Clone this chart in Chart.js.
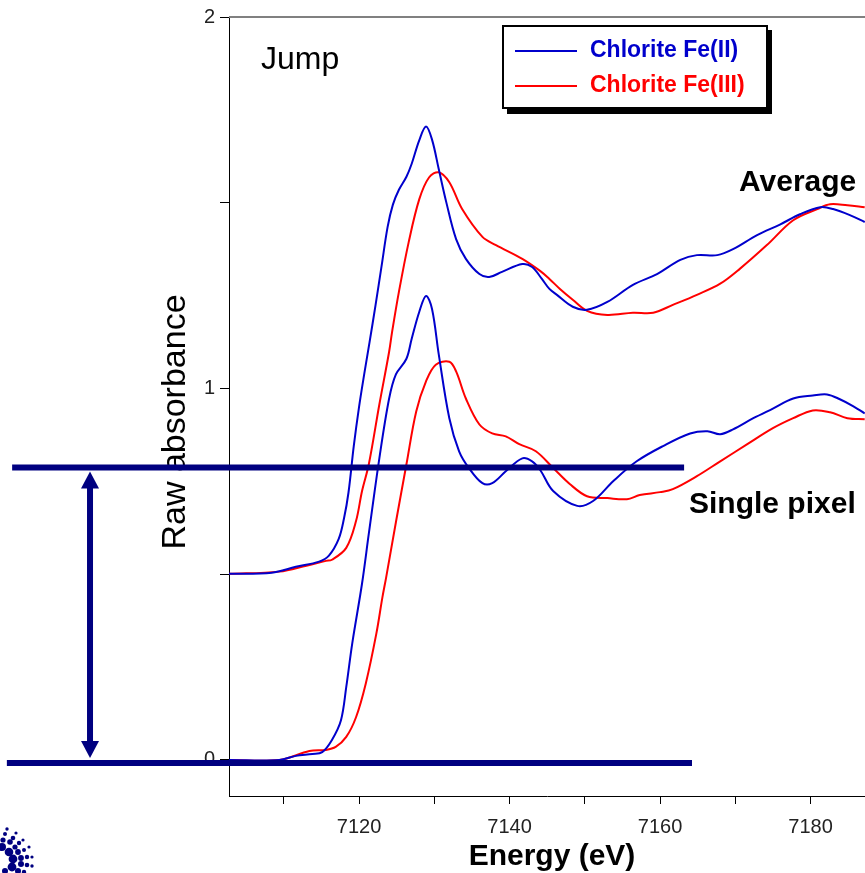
<!DOCTYPE html>
<html><head><meta charset="utf-8">
<script src="https://cdn.jsdelivr.net/npm/chart.js@4/dist/chart.umd.min.js"></script>
<style>html,body{margin:0;padding:0;background:#fff;overflow:hidden}#wrap{width:865px;height:873px;position:relative}</style>
</head><body><div id="wrap"><canvas id="c"></canvas></div>
<script>
// ---- data (energy in eV, raw absorbance) ----
const seriesLabels = ['Chlorite Fe(II)', 'Chlorite Fe(III)'];
const groupLabels = ['Average', 'Single pixel'];

const avgFe2E = [7102.7,7108.4,7111.6,7114.7,7116.0,7117.3,7118.0,7118.6,7119.3,7120.0,7120.7,7121.4,7122.2,7123.0,7123.8,7124.5,7125.3,7126.3,7127.0,7128.0,7128.9,7129.7,7130.6,7131.6,7132.9,7134.2,7136.0,7137.3,7139.0,7141.7,7143.0,7144.3,7145.3,7146.3,7148.4,7150.3,7153.0,7156.4,7159.6,7162.7,7164.9,7167.6,7169.7,7172.9,7176.0,7178.6,7181.3,7183.0,7185.3,7187.2];
const avgFe2A = [0.501,0.504,0.520,0.534,0.550,0.595,0.650,0.720,0.845,0.950,1.040,1.125,1.225,1.330,1.435,1.495,1.535,1.570,1.605,1.668,1.705,1.670,1.590,1.501,1.402,1.349,1.308,1.300,1.314,1.335,1.327,1.295,1.268,1.252,1.220,1.212,1.233,1.279,1.308,1.346,1.359,1.359,1.375,1.413,1.442,1.469,1.488,1.483,1.466,1.448];

const avgFe3E = [7102.7,7109.4,7113.0,7115.6,7116.4,7118.3,7119.6,7120.4,7121.3,7122.7,7124.0,7124.4,7125.3,7126.6,7128.0,7129.3,7130.6,7132.0,7133.7,7136.4,7138.2,7141.7,7144.1,7145.3,7146.7,7148.4,7150.3,7153.0,7156.4,7159.1,7161.7,7164.9,7168.0,7170.6,7174.2,7177.7,7180.9,7182.6,7184.9,7187.2];
const avgFe3A = [0.501,0.507,0.523,0.536,0.539,0.571,0.643,0.724,0.796,0.957,1.099,1.153,1.260,1.394,1.509,1.568,1.582,1.555,1.483,1.408,1.386,1.349,1.316,1.295,1.268,1.239,1.209,1.198,1.204,1.204,1.225,1.252,1.282,1.322,1.386,1.453,1.483,1.496,1.493,1.488];

const pixFe2E = [7102.7,7109.4,7111.6,7113.8,7115.1,7116.4,7117.6,7118.3,7119.1,7120.4,7121.3,7122.7,7124.0,7124.9,7126.3,7127.0,7128.0,7128.9,7129.7,7130.6,7132.0,7133.3,7134.6,7136.4,7137.7,7139.5,7141.7,7143.0,7144.1,7145.8,7149.0,7151.1,7153.8,7156.9,7160.4,7164.0,7166.3,7168.0,7169.7,7172.4,7175.0,7177.7,7180.3,7182.2,7183.9,7185.7,7187.2];
const pixFe2A = [0,0,0.011,0.016,0.021,0.054,0.107,0.196,0.314,0.475,0.609,0.812,0.973,1.038,1.080,1.134,1.206,1.249,1.214,1.091,0.920,0.831,0.786,0.745,0.745,0.777,0.812,0.804,0.780,0.724,0.684,0.697,0.751,0.804,0.845,0.879,0.885,0.877,0.890,0.920,0.946,0.973,0.981,0.984,0.971,0.952,0.933];

const pixFe3E = [7102.7,7109.4,7113.4,7115.6,7116.9,7118.3,7119.6,7120.9,7122.3,7123.1,7123.6,7124.9,7126.3,7127.6,7128.9,7130.2,7132.0,7132.9,7134.2,7136.0,7137.7,7139.5,7141.3,7143.5,7145.8,7148.0,7150.3,7153.0,7155.6,7157.3,7160.0,7161.7,7164.9,7168.0,7171.6,7175.0,7177.7,7180.3,7182.6,7184.9,7187.2];
const pixFe3A = [0,0,0.024,0.027,0.035,0.062,0.115,0.206,0.340,0.437,0.491,0.640,0.796,0.938,1.019,1.064,1.072,1.046,0.973,0.903,0.879,0.871,0.850,0.831,0.786,0.743,0.710,0.705,0.702,0.713,0.721,0.729,0.764,0.804,0.850,0.893,0.920,0.941,0.936,0.920,0.917];

const xTickValues = [7110,7120,7130,7140,7150,7160,7170,7180];
const xTickLabels = ['', '7120', '', '7140', '', '7160', '', '7180'];
const yTickValues = [0,0.5,1,1.5,2];
const yTickLabels = ['0','','1','','2'];

// jump annotation (in data units)
const jumpLevels = [-0.008, 0.787];
const jumpLineEnds = [7164.25, 7163.2];
const jumpLineStarts = [7073.2, 7073.9];
const jumpArrowE = 7084.25;

const FONT = '"Liberation Sans", Arial, Helvetica, sans-serif';
const BLUE = '#0000cc', RED = '#ff0000', NAVY = '#000080';

function pts(E, A){ return E.map((e,i)=>({x:e, y:A[i]})); }

const logoDots = [[7,829,1.7],[5,834,2],[16,833,1.6],[3,840,2.6],[13,838,2.3],[23,840,1.6],[10,842,2.8],[19,843,2.2],[2,847,4],[15,847,2.6],[29,847,1.6],[9,852,4.3],[18,852,2.9],[24,850,2],[13,859,4.4],[21,858,2.9],[27,857,2.2],[32,857,1.6],[12,867,4.4],[21,864,3],[27,865,2.3],[32,866,1.7],[5,871,3],[18,871,3],[24,872,2.2]];

const overlay = {
  id:'overlay',
  afterDraw(chart){
    const {ctx, chartArea:a, scales:{x,y}} = chart;
    ctx.save();
    // top frame
    ctx.strokeStyle='#808080'; ctx.lineWidth=2;
    ctx.beginPath(); ctx.moveTo(a.left, a.top); ctx.lineTo(a.right+2, a.top); ctx.stroke();

    // y-axis title
    ctx.save();
    ctx.translate(176, 422); ctx.rotate(-Math.PI/2);
    ctx.font = '34px '+FONT; ctx.fillStyle='#000'; ctx.textAlign='center'; ctx.textBaseline='middle';
    ctx.fillText('Raw absorbance', 0, 0);
    ctx.restore();

    // x-axis title
    ctx.font = 'bold 30px '+FONT; ctx.fillStyle='#000'; ctx.textAlign='center'; ctx.textBaseline='middle';
    ctx.fillText('Energy (eV)', 552, 857);

    // annotations text
    ctx.textAlign='left';
    ctx.font = '32px '+FONT; ctx.fillText('Jump', 261, 60);
    ctx.font = 'bold 30px '+FONT;
    ctx.fillText(groupLabels[0], 739, 183);
    ctx.fillText(groupLabels[1], 689, 505);

    // jump lines
    ctx.strokeStyle = NAVY; ctx.fillStyle = NAVY; ctx.lineWidth = 6; ctx.lineCap='butt';
    jumpLevels.forEach((lv,i)=>{
      const py = y.getPixelForValue(lv);
      ctx.beginPath(); ctx.moveTo(x.getPixelForValue(jumpLineStarts[i]), py); ctx.lineTo(x.getPixelForValue(jumpLineEnds[i]), py); ctx.stroke();
    });
    const ax = x.getPixelForValue(jumpArrowE);
    const yb = y.getPixelForValue(jumpLevels[0]) - 5, yt = y.getPixelForValue(jumpLevels[1]) + 4;
    ctx.lineWidth = 6;
    ctx.beginPath(); ctx.moveTo(ax, yt+12); ctx.lineTo(ax, yb-12); ctx.stroke();
    ctx.beginPath(); ctx.moveTo(ax, yt); ctx.lineTo(ax-9, yt+17); ctx.lineTo(ax+9, yt+17); ctx.closePath(); ctx.fill();
    ctx.beginPath(); ctx.moveTo(ax, yb); ctx.lineTo(ax-9, yb-17); ctx.lineTo(ax+9, yb-17); ctx.closePath(); ctx.fill();

    // legend box
    ctx.fillStyle='#000';
    ctx.fillRect(507, 30, 265, 84);
    ctx.fillStyle='#fff'; ctx.fillRect(503, 26, 264, 82);
    ctx.strokeStyle='#000'; ctx.lineWidth=2; ctx.strokeRect(503, 26, 264, 82);
    const cols = [BLUE, RED], ly = [51, 86];
    ctx.font = 'bold 23px '+FONT; ctx.textBaseline='middle'; ctx.textAlign='left';
    seriesLabels.forEach((lab,i)=>{
      ctx.strokeStyle = cols[i]; ctx.lineWidth = 2;
      ctx.beginPath(); ctx.moveTo(515, ly[i]); ctx.lineTo(577, ly[i]); ctx.stroke();
      ctx.fillStyle = cols[i]; ctx.fillText(lab, 590, ly[i]);
    });

    // logo dots
    ctx.fillStyle = NAVY;
    logoDots.forEach(d=>{ ctx.beginPath(); ctx.arc(d[0], d[1], d[2], 0, Math.PI*2); ctx.fill(); });
    ctx.restore();
  }
};

const lineDs = (label, E, A, color) => ({
  label, data: pts(E, A), borderColor: color, backgroundColor: color,
  borderWidth: 2, pointRadius: 0, fill: false, tension: 0.35
});

new Chart(document.getElementById('c'), {
  type: 'line',
  data: { datasets: [
    lineDs(seriesLabels[0]+' '+groupLabels[0], avgFe2E, avgFe2A, BLUE),
    lineDs(seriesLabels[1]+' '+groupLabels[0], avgFe3E, avgFe3A, RED),
    lineDs(seriesLabels[0]+' '+groupLabels[1], pixFe2E, pixFe2A, BLUE),
    lineDs(seriesLabels[1]+' '+groupLabels[1], pixFe3E, pixFe3A, RED)
  ]},
  options: {
    responsive: true, maintainAspectRatio: false, animation: false,
    layout: { padding: { top: 14, right: 0, left: 0, bottom: 0 } },
    plugins: { legend: { display: false }, tooltip: { enabled: false } },
    scales: {
      x: {
        type: 'linear', min: 7102.72, max: 7187.24, position: 'bottom',
        border: { color: '#000', width: 1 },
        grid: { drawOnChartArea: false, drawTicks: true, tickLength: 8, color: '#000' },
        ticks: { font: { family: FONT, size: 20 }, color: '#222', padding: 11, autoSkip: false, maxRotation: 0,
          callback: (v) => { const i = xTickValues.indexOf(v); return i >= 0 ? xTickLabels[i] : ''; } },
        afterBuildTicks: s => { s.ticks = xTickValues.map(v => ({ value: v })); },
        afterFit: s => { s.height = 77; }
      },
      y: {
        type: 'linear', min: -0.097, max: 2,
        border: { color: '#000', width: 1 },
        grid: { drawOnChartArea: false, drawTicks: true, tickLength: 9, color: '#000' },
        ticks: { font: { family: FONT, size: 20 }, color: '#222', padding: 5, autoSkip: false,
          callback: (v) => { const i = yTickValues.indexOf(v); return i >= 0 ? yTickLabels[i] : ''; } },
        afterBuildTicks: s => { s.ticks = yTickValues.map(v => ({ value: v })); },
        afterFit: s => { s.width = 229; }
      }
    }
  },
  plugins: [overlay]
});
</script>
</body></html>
